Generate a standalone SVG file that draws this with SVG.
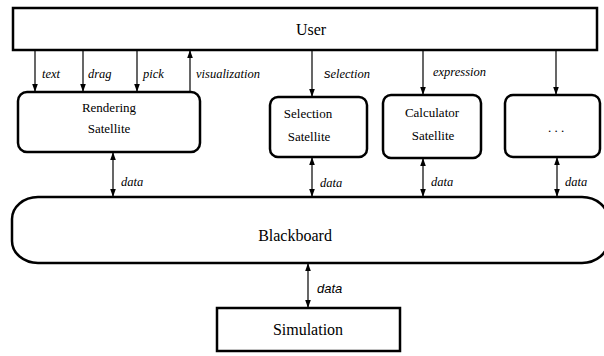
<svg xmlns="http://www.w3.org/2000/svg" width="604" height="356" viewBox="0 0 604 356">
<defs>
<marker id="ah" viewBox="0 0 10 10" refX="10" refY="5" markerWidth="8" markerHeight="8" markerUnits="userSpaceOnUse" orient="auto-start-reverse">
<path d="M0,1.5 L10,5 L0,8.5 Z" fill="#000"/>
</marker>
</defs>
<style>
.box{fill:#fff;stroke:#000;stroke-width:2.5}
.lbl{font-size:13px;fill:#000;text-anchor:middle}
.big{font-size:16px;fill:#000;text-anchor:middle}
.it{font-size:12.5px;font-style:italic;fill:#000}
.sit{font-size:13px;font-style:italic;fill:#000}
.con line{stroke:#000;stroke-width:1.2}
.one{marker-end:url(#ah)}
.two{marker-start:url(#ah);marker-end:url(#ah)}
</style>
<rect width="604" height="356" fill="#fff"/>
<g font-family="Liberation Serif, serif">
<g id="user"><rect class="box" x="13" y="8" width="584" height="42"/><text class="big" x="311" y="35">User</text></g>
<g id="rendering"><rect class="box" x="18" y="92" width="182" height="60" rx="9"/><text class="lbl" x="109" y="112">Rendering</text><text class="lbl" x="109" y="133">Satellite</text></g>
<g id="selection"><rect class="box" x="270" y="97" width="97" height="60" rx="8"/><text class="lbl" x="308" y="118">Selection</text><text class="lbl" x="309" y="141">Satellite</text></g>
<g id="calculator"><rect class="box" x="383" y="95" width="98" height="63" rx="8"/><text class="lbl" x="432" y="117">Calculator</text><text class="lbl" x="433" y="140">Satellite</text></g>
<g id="more"><rect class="box" x="505" y="95" width="95" height="62" rx="8"/><text class="lbl" x="556" y="132">. . .</text></g>
<g id="blackboard"><rect class="box" x="12" y="197" width="596" height="66" rx="26" ry="22"/><text class="big" x="295" y="241">Blackboard</text></g>
<g id="simulation"><rect class="box" x="217" y="308" width="183" height="43"/><text class="big" x="308" y="335">Simulation</text></g>
<g id="connectors" class="con">
<line class="one" x1="35" y1="50" x2="35" y2="92"/>
<line class="one" x1="83" y1="50" x2="83" y2="92"/>
<line class="one" x1="137" y1="50" x2="137" y2="92"/>
<line class="one" x1="190" y1="92" x2="190" y2="50"/>
<line class="one" x1="312" y1="50" x2="312" y2="97"/>
<line class="one" x1="423" y1="50" x2="423" y2="95"/>
<line class="one" x1="556" y1="50" x2="556" y2="95"/>
<line class="two" x1="113" y1="152" x2="113" y2="197"/>
<line class="two" x1="312" y1="157" x2="312" y2="197"/>
<line class="two" x1="423" y1="158" x2="423" y2="197"/>
<line class="two" x1="557" y1="157" x2="557" y2="197"/>
<line class="two" x1="308" y1="263" x2="308" y2="308"/>
<text class="it" x="42" y="78">text</text>
<text class="it" x="88" y="78">drag</text>
<text class="it" x="143" y="78">pick</text>
<text class="it" x="196" y="78">visualization</text>
<text class="it" x="324" y="78"><tspan font-family="Liberation Sans, sans-serif" font-size="13">s</tspan>election</text>
<text class="it" x="433" y="76">expression</text>
<text class="it" x="121" y="186">data</text>
<text class="it" x="320" y="187">data</text>
<text class="it" x="431" y="186">data</text>
<text class="it" x="565" y="186">data</text>
<text class="sit" font-family="Liberation Sans, sans-serif" x="317" y="293">data</text>
</g>
</g>
</svg>
